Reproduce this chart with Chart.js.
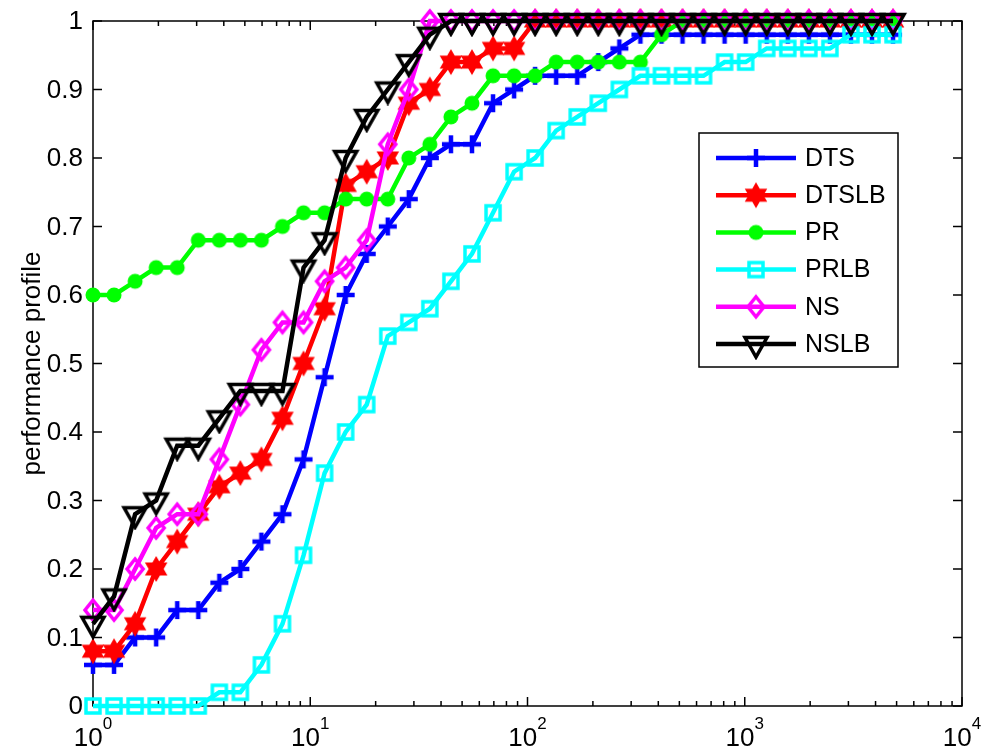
<!DOCTYPE html>
<html lang="en">
<head>
    <meta charset="UTF-8">
    <title>Performance profile</title>
    <script src="https://cdn.jsdelivr.net/npm/chart.js"></script>
    <style>
        html, body { margin: 0; padding: 0; background: #fff; }
        #wrap { width: 982px; height: 750px; }
    </style>
</head>
<body>
    <div id="wrap"><canvas id="myChart" width="982" height="750"></canvas></div>

    <script>
        // tau values (x axis, log scale)
        const tau = [1, 1.25, 1.5625, 1.953, 2.441, 3.052, 3.815, 4.768, 5.960, 7.451,
            9.313, 11.64, 14.55, 18.19, 22.74, 28.42, 35.53, 44.41, 55.51, 69.39,
            86.74, 108.4, 135.5, 169.4, 211.8, 264.7, 330.9, 413.6, 517.0, 646.2,
            807.8, 1009.7, 1262.2, 1577.7, 1972.2, 2465.2, 3081.5, 3851.9, 4814.8];

        const seriesNames = ['DTS', 'DTSLB', 'PR', 'PRLB', 'NS', 'NSLB'];

        const dts = [0.06, 0.06, 0.10, 0.10, 0.14, 0.14, 0.18, 0.20, 0.24, 0.28,
            0.36, 0.48, 0.60, 0.66, 0.70, 0.74, 0.80, 0.82, 0.82, 0.88,
            0.90, 0.92, 0.92, 0.92, 0.94, 0.96, 0.98, 0.98, 0.98, 0.98,
            0.98, 0.98, 0.98, 0.98, 0.98, 0.98, 0.98, 0.98, 0.98];
        const dtslb = [0.08, 0.08, 0.12, 0.20, 0.24, 0.28, 0.32, 0.34, 0.36, 0.42,
            0.50, 0.58, 0.76, 0.78, 0.80, 0.88, 0.90, 0.94, 0.94, 0.96,
            0.96, 1, 1, 1, 1, 1, 1, 1, 1, 1,
            1, 1, 1, 1, 1, 1, 1, 1, 1];
        const pr = [0.60, 0.60, 0.62, 0.64, 0.64, 0.68, 0.68, 0.68, 0.68, 0.70,
            0.72, 0.72, 0.74, 0.74, 0.74, 0.80, 0.82, 0.86, 0.88, 0.92,
            0.92, 0.92, 0.94, 0.94, 0.94, 0.94, 0.94, 0.98, 1, 1,
            1, 1, 1, 1, 1, 1, 1, 1, 1];
        const prlb = [0, 0, 0, 0, 0, 0, 0.02, 0.02, 0.06, 0.12,
            0.22, 0.34, 0.40, 0.44, 0.54, 0.56, 0.58, 0.62, 0.66, 0.72,
            0.78, 0.80, 0.84, 0.86, 0.88, 0.90, 0.92, 0.92, 0.92, 0.92,
            0.94, 0.94, 0.96, 0.96, 0.96, 0.96, 0.98, 0.98, 0.98];
        const ns = [0.14, 0.14, 0.20, 0.26, 0.28, 0.28, 0.36, 0.44, 0.52, 0.56,
            0.56, 0.62, 0.64, 0.68, 0.82, 0.90, 1, 1, 1, 1,
            1, 1, 1, 1, 1, 1, 1, 1, 1, 1,
            1, 1, 1, 1, 1, 1, 1, 1, 1];
        const nslb = [0.12, 0.16, 0.28, 0.30, 0.38, 0.38, 0.42, 0.46, 0.46, 0.46,
            0.64, 0.68, 0.80, 0.86, 0.90, 0.94, 0.98, 1, 1, 1,
            1, 1, 1, 1, 1, 1, 1, 1, 1, 1,
            1, 1, 1, 1, 1, 1, 1, 1, 1];

        const yTicks = [0, 0.1, 0.2, 0.3, 0.4, 0.5, 0.6, 0.7, 0.8, 0.9, 1];
        const yTickLabels = ['0', '0.1', '0.2', '0.3', '0.4', '0.5', '0.6', '0.7', '0.8', '0.9', '1'];
        const xTicks = [1, 10, 100, 1000, 10000];
        const xTickExp = ['0', '1', '2', '3', '4'];
        const yTitle = 'performance profile';

        const colors = ['#0000ff', '#ff0000', '#00ff00', '#00ffff', '#ff00ff', '#000000'];
        const markerKinds = ['plus', 'hexagram', 'circle', 'square', 'diamond', 'triangleDown'];
        const FONT = '"Liberation Sans", Arial, Helvetica, sans-serif';

        // matlab style markers as little canvases
        function makeMarker(kind, color) {
            const c = document.createElement('canvas');
            c.width = 32; c.height = 32;
            const g = c.getContext('2d');
            g.translate(16, 16);
            g.strokeStyle = color;
            g.fillStyle = color;
            g.lineWidth = 3.5;
            g.lineJoin = 'miter';
            g.beginPath();
            if (kind === 'plus') {
                g.lineWidth = 4.5;
                g.moveTo(-9, 0); g.lineTo(9, 0);
                g.moveTo(0, -9); g.lineTo(0, 9);
                g.stroke();
            } else if (kind === 'hexagram') {
                const R = 13, r = 7.5;
                for (let i = 0; i < 12; i++) {
                    const ang = -Math.PI / 2 + i * Math.PI / 6;
                    const rad = i % 2 === 0 ? R : r;
                    const px = Math.cos(ang) * rad, py = Math.sin(ang) * rad;
                    if (i === 0) g.moveTo(px, py); else g.lineTo(px, py);
                }
                g.closePath();
                g.fill();
            } else if (kind === 'circle') {
                g.arc(0, 0, 7.5, 0, Math.PI * 2);
                g.fill();
            } else if (kind === 'square') {
                g.rect(-7, -7, 14, 14);
                g.stroke();
            } else if (kind === 'diamond') {
                g.moveTo(0, -10); g.lineTo(8, 0); g.lineTo(0, 10); g.lineTo(-8, 0);
                g.closePath();
                g.stroke();
            } else if (kind === 'triangleDown') {
                g.moveTo(-11, -6.5); g.lineTo(11, -6.5); g.lineTo(0, 13);
                g.closePath();
                g.stroke();
            }
            return c;
        }

        const markers = markerKinds.map((k, i) => makeMarker(k, colors[i]));
        const allValues = [dts, dtslb, pr, prlb, ns, nslb];

        const datasets = seriesNames.map((name, i) => ({
            label: name,
            data: tau.map((t, j) => ({ x: t, y: allValues[i][j] })),
            borderColor: colors[i],
            backgroundColor: colors[i],
            borderWidth: 4.5,
            pointStyle: markers[i],
            pointRadius: 8,
            tension: 0,
            fill: false,
            clip: false,
            order: seriesNames.length - i // last series on top, like matlab
        }));

        function line(ctx, x1, y1, x2, y2) {
            ctx.beginPath();
            ctx.moveTo(x1, y1);
            ctx.lineTo(x2, y2);
            ctx.stroke();
        }

        // axes box, ticks and labels drawn under the data
        const axesPlugin = {
            id: 'matlabAxes',
            beforeDatasetsDraw(chart) {
                const { ctx, chartArea: a, scales: { x, y } } = chart;
                ctx.save();
                ctx.strokeStyle = '#000';
                ctx.fillStyle = '#000';
                ctx.lineWidth = 1.5;
                ctx.strokeRect(a.left, a.top, a.right - a.left, a.bottom - a.top);

                // y ticks
                ctx.font = '26px ' + FONT;
                ctx.textAlign = 'right';
                ctx.textBaseline = 'middle';
                yTicks.forEach((v, i) => {
                    const py = y.getPixelForValue(v);
                    line(ctx, a.left, py, a.left + 9, py);
                    line(ctx, a.right, py, a.right - 9, py);
                    ctx.fillText(yTickLabels[i], a.left - 10, py + 1);
                });

                // x minor ticks
                for (let d = 1; d < 10000; d *= 10) {
                    for (let m = 2; m <= 9; m++) {
                        const px = x.getPixelForValue(d * m);
                        line(ctx, px, a.bottom, px, a.bottom - 5);
                        line(ctx, px, a.top, px, a.top + 5);
                    }
                }
                // x major ticks + 10^n labels
                xTicks.forEach((v, i) => {
                    const px = x.getPixelForValue(v);
                    line(ctx, px, a.bottom, px, a.bottom - 9);
                    line(ctx, px, a.top, px, a.top + 9);
                    ctx.font = '26px ' + FONT;
                    const wBase = ctx.measureText('10').width;
                    ctx.font = '17px ' + FONT;
                    const wExp = ctx.measureText(xTickExp[i]).width;
                    const x0 = px - (wBase + wExp) / 2;
                    ctx.textAlign = 'left';
                    ctx.textBaseline = 'alphabetic';
                    ctx.font = '26px ' + FONT;
                    ctx.fillText('10', x0, 746);
                    ctx.font = '17px ' + FONT;
                    ctx.fillText(xTickExp[i], x0 + wBase, 729);
                });

                // y title
                ctx.save();
                ctx.translate(33, (a.top + a.bottom) / 2);
                ctx.rotate(-Math.PI / 2);
                ctx.font = '26px ' + FONT;
                ctx.textAlign = 'center';
                ctx.textBaseline = 'middle';
                ctx.fillText(yTitle, 0, 0);
                ctx.restore();
                ctx.restore();
            }
        };

        // legend box, top right
        const legendPlugin = {
            id: 'matlabLegend',
            afterDraw(chart) {
                const ctx = chart.ctx;
                ctx.save();
                ctx.fillStyle = '#fff';
                ctx.fillRect(699, 133, 199, 234);
                ctx.strokeStyle = '#000';
                ctx.lineWidth = 1.5;
                ctx.strokeRect(699, 133, 199, 234);
                ctx.font = '25px ' + FONT;
                ctx.textAlign = 'left';
                ctx.textBaseline = 'middle';
                seriesNames.forEach((name, i) => {
                    const cy = 158 + i * 37.2;
                    ctx.strokeStyle = colors[i];
                    ctx.lineWidth = 4.5;
                    line(ctx, 716, cy, 796, cy);
                    ctx.drawImage(markers[i], 756 - 16, cy - 16);
                    ctx.fillStyle = '#000';
                    ctx.fillText(name, 805, cy + 1);
                });
                ctx.restore();
            }
        };

        const ctx = document.getElementById('myChart').getContext('2d');
        new Chart(ctx, {
            type: 'line',
            data: { datasets: datasets },
            options: {
                responsive: false,
                animation: false,
                events: [],
                layout: { padding: { left: 93, right: 20, top: 21, bottom: 44 } },
                scales: {
                    x: { type: 'logarithmic', min: 1, max: 10000, display: false },
                    y: { type: 'linear', min: 0, max: 1, display: false }
                },
                plugins: {
                    legend: { display: false },
                    tooltip: { enabled: false }
                }
            },
            plugins: [axesPlugin, legendPlugin]
        });
    </script>
</body>
</html>
